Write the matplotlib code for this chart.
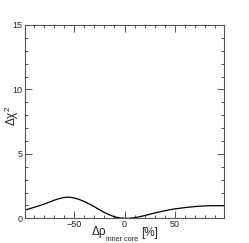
import matplotlib
matplotlib.use("Agg")
import matplotlib.pyplot as plt
from matplotlib.ticker import MultipleLocator

plt.rcParams['font.family'] = ['Liberation Sans', 'DejaVu Sans']
plt.rcParams['mathtext.fontset'] = 'custom'
plt.rcParams['mathtext.rm'] = 'Liberation Sans'
plt.rcParams['mathtext.it'] = 'Liberation Sans:italic'

delta_rho = [-100, -95, -90, -85, -80, -75, -70, -65, -60, -55, -50, -45, -40, -35,
             -30, -25, -20, -15, -10, -5, 0, 5, 10, 15, 20, 25, 30, 35, 40, 45, 50,
             55, 60, 65, 70, 75, 80, 85, 90, 95, 100]
delta_chi2 = [0.62, 0.73, 0.85, 0.97, 1.10, 1.25, 1.40, 1.53, 1.62, 1.64, 1.58, 1.46, 1.30, 1.11,
              0.90, 0.67, 0.45, 0.27, 0.12, 0.03, 0.00, 0.00, 0.05, 0.12, 0.21, 0.31, 0.41, 0.50, 0.58, 0.66, 0.73,
              0.78, 0.83, 0.87, 0.91, 0.94, 0.96, 0.98, 0.98, 0.98, 0.97]

W, H = 249, 243
fig = plt.figure(figsize=(W/100, H/100), dpi=100)
ax = fig.add_axes([24.5/W, (H-218.3)/H, 199.5/W, 193.3/H])
ax.plot(delta_rho, delta_chi2, color='black', lw=0.9)
ax.set_xlim(-99.5, 99)
ax.set_ylim(0, 15)
ax.xaxis.set_major_locator(MultipleLocator(50))
ax.xaxis.set_minor_locator(MultipleLocator(10))
ax.yaxis.set_major_locator(MultipleLocator(5))
ax.yaxis.set_minor_locator(MultipleLocator(1))
ax.tick_params(which='both', direction='in', top=True, right=True, labelsize=6.5,
               color='#555555', width=0.7, pad=1.5, labelcolor='#222222')
ax.tick_params(which='major', length=5)
ax.tick_params(which='minor', length=2.5)
for s in ax.spines.values():
    s.set_linewidth(0.8)
    s.set_color('#555555')
# x-axis title composed of parts (ROOT-style low subscript)
fig.text(92/W, 1 - 235/H, 'Δρ', fontsize=8.5, ha='left', va='baseline', color='#222222')
fig.text(106/W, 1 - 241/H, 'inner core', fontsize=5.2, ha='left', va='baseline', color='#222222')
fig.text(141/W, 1 - 236/H, '[%]', fontsize=8.5, ha='left', va='baseline', color='#222222')
fig.text(11.5/W, 1 - 116/H, r'$\mathrm{\Delta\chi}^{2}$', fontsize=8.5, rotation=90,
         ha='center', va='center', color='#222222')
fig.savefig('out.png', dpi=100)
